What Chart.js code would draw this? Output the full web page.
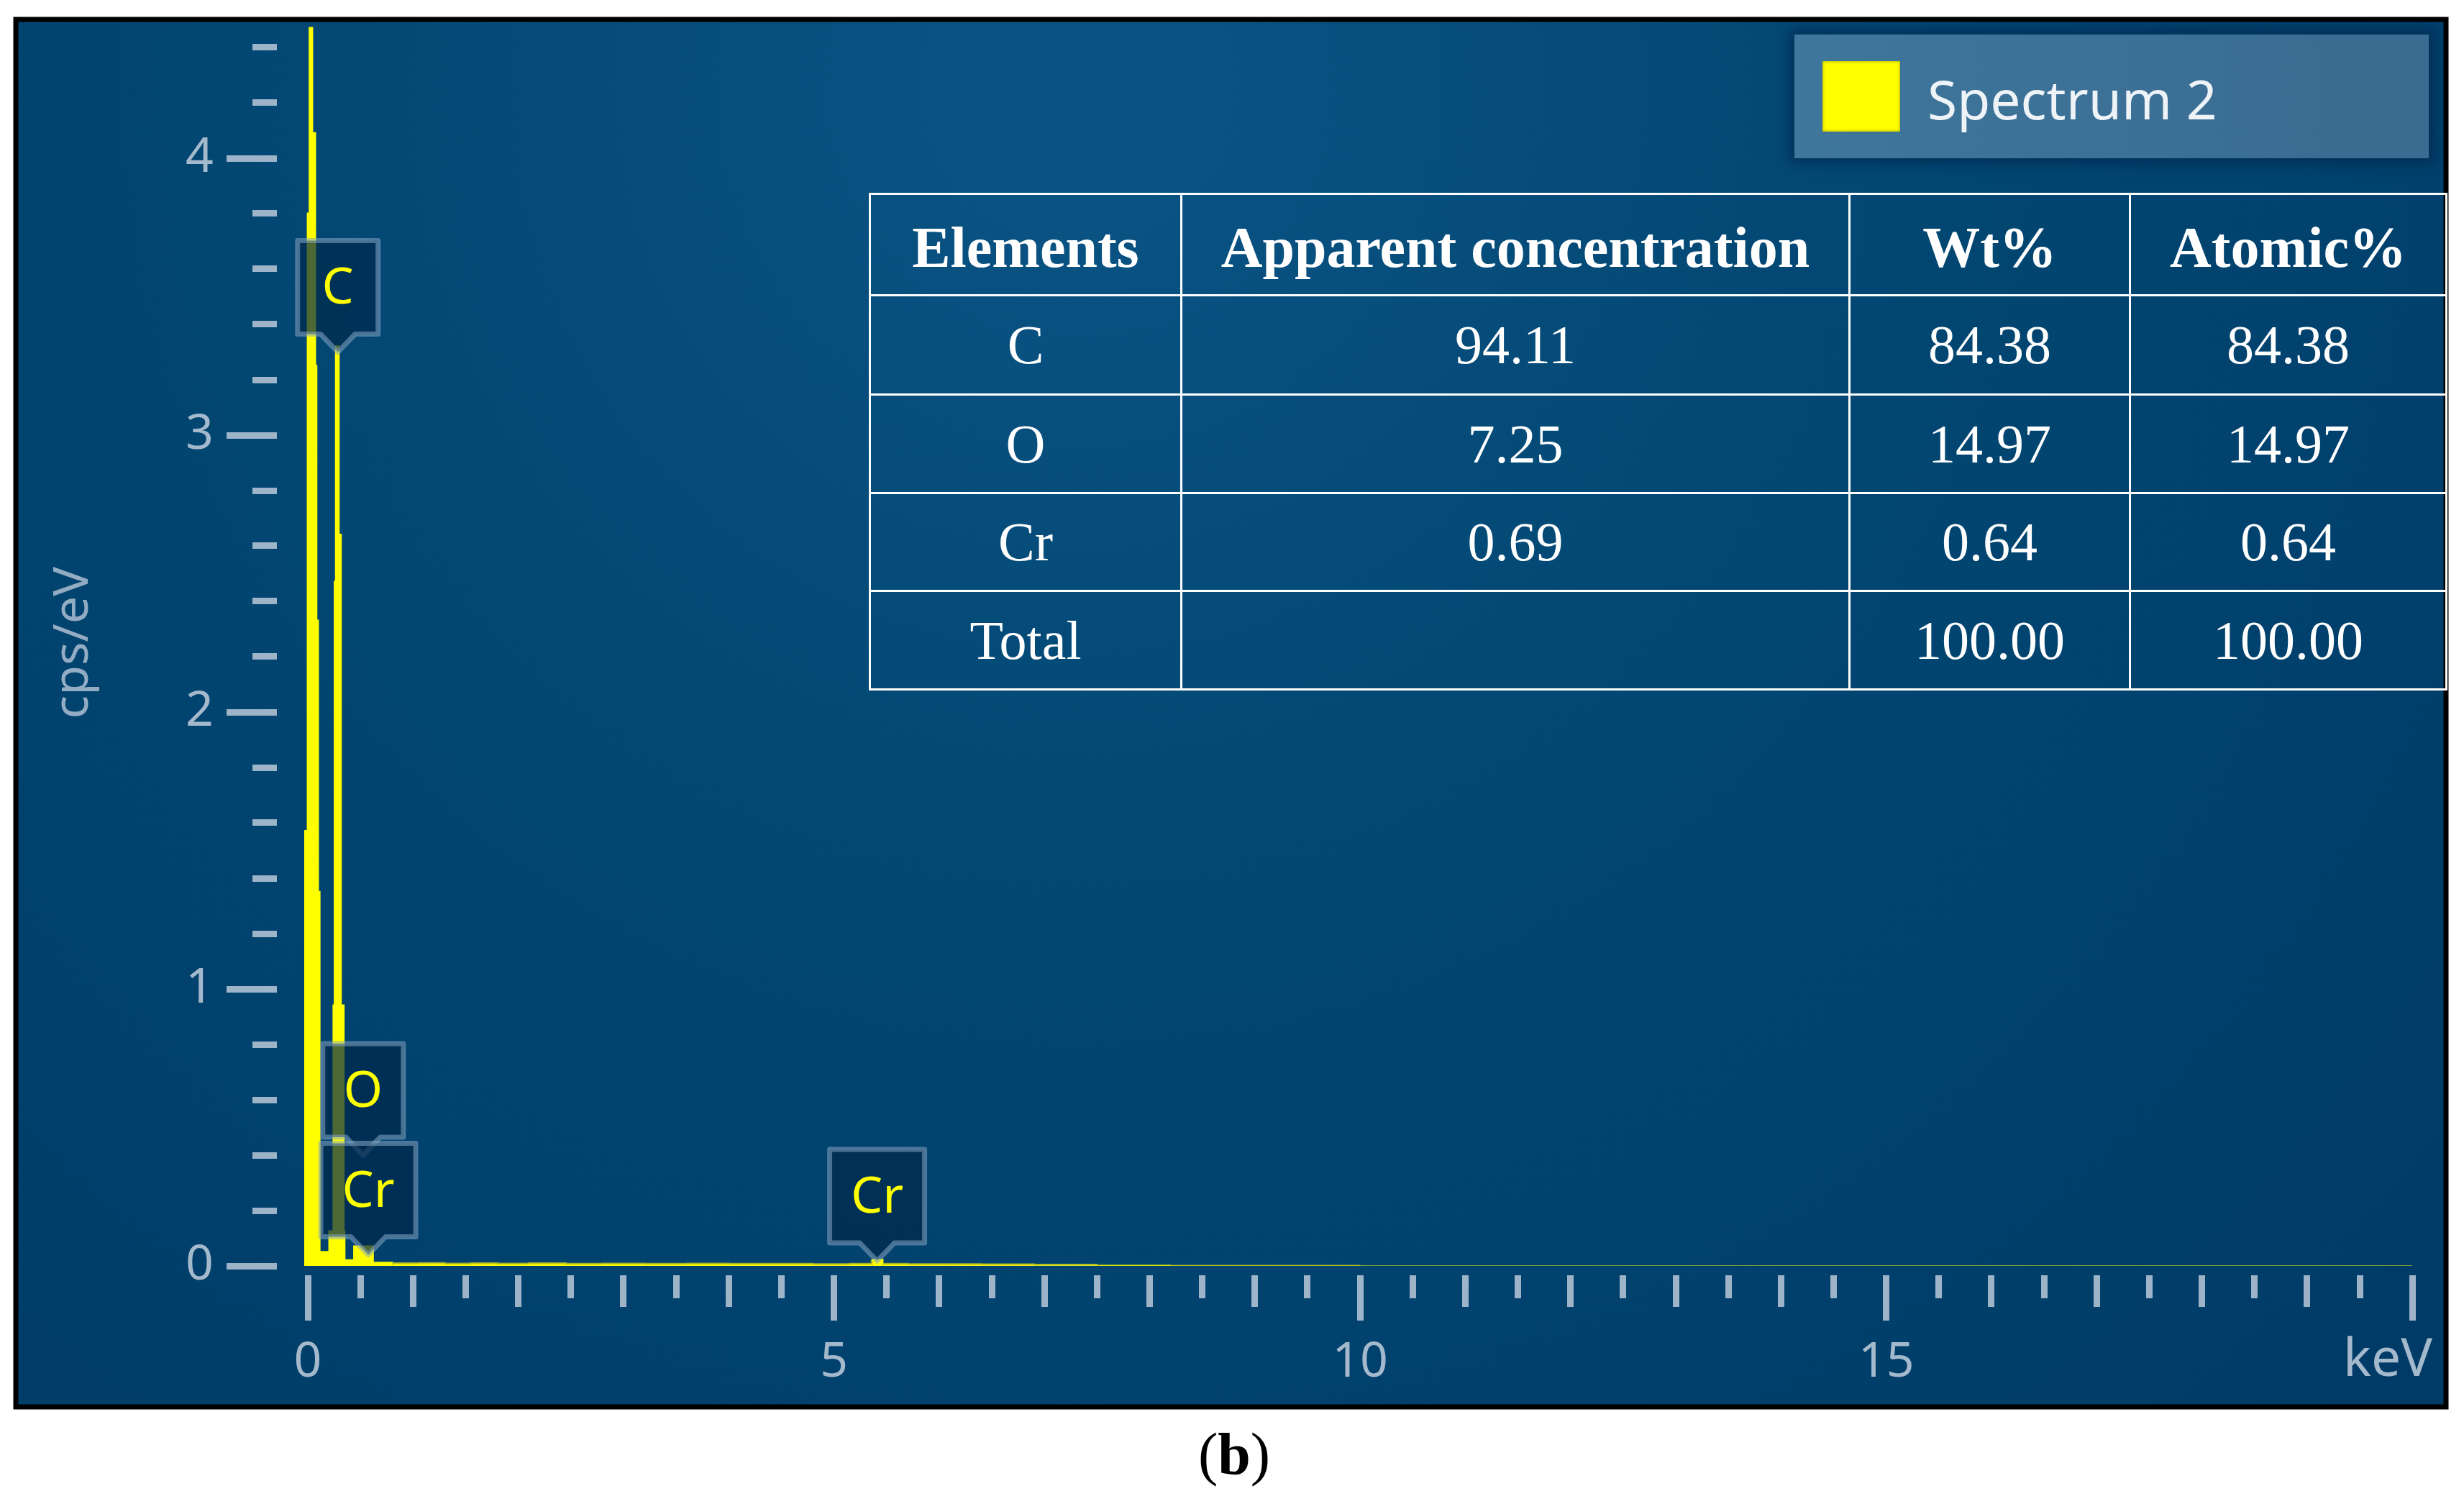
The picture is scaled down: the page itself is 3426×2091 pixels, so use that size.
<!DOCTYPE html>
<html>
<head>
<meta charset="utf-8">
<script src="https://cdn.jsdelivr.net/npm/chart.js@4.4.1/dist/chart.umd.min.js"></script>
<style>
html,body{margin:0;padding:0;background:#fff;}
#wrap{position:relative;width:3426px;height:2091px;overflow:hidden;background:#fff;}
#c{position:absolute;left:0;top:0;}
#legend{position:absolute;left:2495px;top:48px;width:882px;height:172px;background:linear-gradient(90deg,#3f769b,#3a6b91);box-shadow:0 0 16px 8px rgba(0,35,70,0.55);}
#legend .sw{position:absolute;left:39px;top:37px;width:108px;height:98px;background:#ffff00;box-shadow:inset 0 0 4px rgba(140,140,0,0.9);}
#legend .tx{position:absolute;left:185px;top:52px;font:75px/75px 'Noto Sans',sans-serif;color:#eef3f8;white-space:nowrap;}
#tbl{position:absolute;left:1208px;top:268px;width:2192px;border-collapse:collapse;table-layout:fixed;font-family:'Liberation Serif','Times New Roman',serif;color:#fff;}
#tbl td,#tbl th{border:3px solid #fff;text-align:center;vertical-align:middle;padding:0;white-space:nowrap;}
#tbl th{font-weight:bold;font-size:80px;padding-top:8px;}
#tbl td{font-size:76px;}
#cap{position:absolute;left:0;width:3432px;top:1981px;text-align:center;font:82px/82px 'Liberation Serif','Times New Roman',serif;color:#000;}
</style>
</head>
<body>
<div id="wrap">
  <canvas id="c" width="3426" height="2091"></canvas>
  <div id="legend"><div class="sw"></div><div class="tx" id="legendText"></div></div>
  <table id="tbl">
    <colgroup><col style="width:433px"><col style="width:929px"><col style="width:390px"><col style="width:440px"></colgroup>
    <thead><tr id="hdr" style="height:141px"></tr></thead>
    <tbody id="tbody"></tbody>
  </table>
  <div id="cap">(<b>b</b>)</div>
</div>
<script>
// ---------------- data ----------------
const seriesName = 'Spectrum 2';
// spectrum bins (left edge, keV) and intensity (cps/eV)
const energyKeV = [-0.035, 0.000, 0.018, 0.040, 0.068, 0.080, 0.095, 0.110, 0.205, 0.245,
                   0.256, 0.268, 0.292, 0.312, 0.339, 0.347, 0.441, 0.617, 0.80, 1.05,
                   1.30, 1.55, 1.80, 2.10, 2.45, 2.80, 3.20, 3.60, 4.00, 4.40,
                   4.80, 5.15, 5.36, 5.46, 5.70, 6.00, 6.40, 6.90, 7.50, 8.20,
                   9.00, 10.0, 12.0, 14.0, 17.0, 20.0];
const countsCpsPerEV = [1.57, 3.80, 4.47, 4.09, 3.25, 2.33, 1.35, 0.05, 0.125, 0.94,
                        2.47, 3.32, 2.64, 0.94, 0.125, 0.02, 0.07, 0.011, 0.009, 0.010,
                        0.008, 0.009, 0.008, 0.009, 0.007, 0.008, 0.007, 0.008, 0.007, 0.007,
                        0.006, 0.007, 0.022, 0.007, 0.006, 0.006, 0.005, 0.004, 0.003, 0.002,
                        0.002, 0.001, 0.001, 0.001, 0.001, 0.001];
// peak markers
const peakLabels = ['C', 'O', 'Cr', 'Cr'];
const peakEnergies = [0.285, 0.525, 0.574, 5.41];
const peakMarkerLevels = [3.30, 0.40, 0.04, 0.018];
// axis ticks
const xTickValues = [0, 5, 10, 15, 20];
const xTickLabels = ['0', '5', '10', '15', ''];
const xAxisUnit = 'keV';
const yTickValues = [0, 1, 2, 3, 4];
const yTickLabels = ['0', '1', '2', '3', '4'];
const yAxisTitle = 'cps/eV';
// quantification table
const tableHeaders = ['Elements', 'Apparent concentration', 'Wt%', 'Atomic%'];
const tableElements = ['C', 'O', 'Cr', 'Total'];
const apparentConc = ['94.11', '7.25', '0.69', ''];
const wtPercent = ['84.38', '14.97', '0.64', '100.00'];
const atomicPercent = ['84.38', '14.97', '0.64', '100.00'];

// ---------------- HTML parts ----------------
document.getElementById('legendText').textContent = seriesName;
const hdr = document.getElementById('hdr');
tableHeaders.forEach(h => { const th = document.createElement('th'); th.textContent = h; hdr.appendChild(th); });
const tbody = document.getElementById('tbody');
const rowHeights = [138, 137, 136, 137];
tableElements.forEach((el, i) => {
  const tr = document.createElement('tr');
  tr.style.height = rowHeights[i] + 'px';
  [el, apparentConc[i], wtPercent[i], atomicPercent[i]].forEach(v => {
    const td = document.createElement('td'); td.textContent = v; tr.appendChild(td);
  });
  tbody.appendChild(tr);
});

// ---------------- chart ----------------
const axisColor = '#a5b9cc';
const tickColor = 'rgba(170,190,208,0.92)';
const FRAME = {l: 22, t: 27, r: 3401, b: 1956};

const panelPlugin = {
  id: 'panel',
  beforeDraw(chart) {
    const ctx = chart.ctx;
    ctx.save();
    ctx.fillStyle = '#ffffff';
    ctx.fillRect(0, 0, chart.width, chart.height);
    const g = ctx.createRadialGradient(1500, 120, 0, 1500, 120, 2700);
    g.addColorStop(0, '#0a5484');
    g.addColorStop(0.45, '#024672');
    g.addColorStop(1, '#003a66');
    ctx.fillStyle = g;
    ctx.fillRect(FRAME.l, FRAME.t, FRAME.r - FRAME.l, FRAME.b - FRAME.t);
    ctx.restore();
  },
  afterDraw(chart) {
    const ctx = chart.ctx;
    ctx.save();
    ctx.strokeStyle = '#000';
    ctx.lineWidth = 7;
    ctx.strokeRect(FRAME.l, FRAME.t, FRAME.r - FRAME.l, FRAME.b - FRAME.t);
    ctx.restore();
  }
};

const tickMarksPlugin = {
  id: 'tickMarks',
  beforeDatasetsDraw(chart) {
    const {ctx, chartArea: a, scales: {x, y}} = chart;
    ctx.save();
    ctx.fillStyle = tickColor;
    for (let i = 0; i <= 40; i++) {
      const px = x.getPixelForValue(i * 0.5);
      const len = (i % 10 === 0) ? 63 : (i % 2 === 0 ? 44 : 32);
      ctx.fillRect(Math.round(px - 4.5), a.bottom + 13, 9, len);
    }
    for (let i = 0; i <= 22; i++) {
      const py = y.getPixelForValue(i * 0.2);
      const len = (i % 5 === 0) ? 70 : 34;
      const xr = a.left - 35;
      ctx.fillRect(xr - len, Math.round(py - 4.5), len, 9);
    }
    ctx.restore();
  }
};

const peakLabelPlugin = {
  id: 'peakLabels',
  afterDatasetsDraw(chart) {
    const {ctx, scales: {x, y}} = chart;
    ctx.save();
    ctx.font = '70px "Noto Sans", sans-serif';
    peakLabels.forEach((t, i) => {
      const px = x.getPixelForValue(peakEnergies[i]);
      const py = y.getPixelForValue(peakMarkerLevels[i]);
      const w = t.length > 1 ? 132 : 112, h = 130, ph = 25, pw = 24;
      const bot = py - ph, top = bot - h, l = px - w / 2, r = px + w / 2;
      ctx.beginPath();
      ctx.moveTo(l, top); ctx.lineTo(r, top); ctx.lineTo(r, bot);
      ctx.lineTo(px + pw, bot); ctx.lineTo(px, py); ctx.lineTo(px - pw, bot);
      ctx.lineTo(l, bot); ctx.closePath();
      ctx.fillStyle = 'rgba(0,40,76,0.70)';
      ctx.fill();
      ctx.lineWidth = 7;
      ctx.lineJoin = 'round';
      ctx.strokeStyle = 'rgba(135,165,195,0.55)';
      ctx.stroke();
      ctx.fillStyle = '#ffff00';
      ctx.textAlign = 'center';
      ctx.textBaseline = 'middle';
      ctx.fillText(t, px, top + h / 2 + 3);
    });
    ctx.restore();
  }
};

const tickFont = {family: "'Noto Sans', sans-serif", size: 68};
const unitFont = {family: "'Noto Sans', sans-serif", size: 73};
const yTickFont = {family: "'Noto Sans', sans-serif", size: 68, lineHeight: 0.5};

new Chart(document.getElementById('c'), {
  type: 'line',
  data: {
    datasets: [{
      label: seriesName,
      data: energyKeV.map((e, i) => ({x: e, y: countsCpsPerEV[i]})),
      stepped: true,
      borderColor: '#ffff00',
      backgroundColor: '#ffff00',
      borderWidth: 3,
      fill: 'origin',
      pointRadius: 0,
      segment: {
        borderColor: c => {
          const x0 = c.p0.parsed.x;
          if (x0 < 0.62) return '#ffff00';
          if (x0 > 5.3 && x0 < 5.4) return '#ffff00';
          if (x0 < 7) return 'rgba(215,215,25,0.75)';
          if (x0 < 10) return 'rgba(170,180,40,0.35)';
          return 'rgba(0,0,0,0)';
        }
      }
    }]
  },
  options: {
    responsive: false,
    animation: false,
    devicePixelRatio: 1,
    layout: {autoPadding: false, padding: {left: 20, right: 44, top: 27.5, bottom: 155}},
    plugins: {legend: {display: false}, tooltip: {enabled: false}},
    scales: {
      x: {
        type: 'linear', min: -0.055, max: 20.19,
        afterFit: s => { s.height = 176; },
        grid: {display: false, drawTicks: true, tickLength: 94},
        border: {display: false},
        ticks: {
          stepSize: 5, includeBounds: false, autoSkip: false, maxRotation: 0,
          padding: 0, color: axisColor, font: tickFont,
          callback: v => { const k = xTickValues.indexOf(v); return k >= 0 ? xTickLabels[k] : ''; }
        },
        title: {display: true, text: xAxisUnit, align: 'end', color: axisColor, font: unitFont, padding: {top: 0, bottom: 0}}
      },
      y: {
        type: 'linear', min: 0, max: 4.5,
        afterFit: s => { s.width = 400; },
        grid: {display: false, drawTicks: true, tickLength: 123},
        border: {display: false},
        ticks: {
          stepSize: 1, includeBounds: false, autoSkip: false,
          padding: 0, color: axisColor, font: yTickFont,
          callback: v => { const k = yTickValues.indexOf(v); return k >= 0 ? yTickLabels[k] : ''; }
        },
        title: {display: true, text: yAxisTitle, color: '#93acc3', font: tickFont, padding: {top: 42, bottom: 0}}
      }
    }
  },
  plugins: [panelPlugin, tickMarksPlugin, peakLabelPlugin]
});
</script>
</body>
</html>
